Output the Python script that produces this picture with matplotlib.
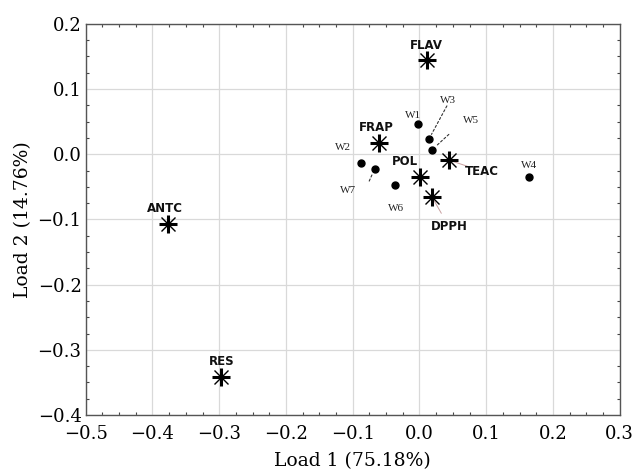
import matplotlib
matplotlib.use('Agg')
import matplotlib.pyplot as plt
from matplotlib.ticker import MultipleLocator

# variable loadings (asterisks)
var_names = ['FLAV', 'FRAP', 'POL', 'TEAC', 'DPPH', 'ANTC', 'RES']
var_x = [0.011, -0.060, 0.001, 0.044, 0.019, -0.377, -0.297]
var_y = [0.144, 0.017, -0.035, -0.009, -0.066, -0.107, -0.341]
# label offsets in points
var_off = [(0, 11), (-2, 11), (-11, 11), (24, -8), (12, -21), (-2, 11), (0, 11)]

# wine samples (dots)
w_names = ['W1', 'W2', 'W3', 'W4', 'W5', 'W6', 'W7']
w_x = [-0.002, -0.088, 0.014, 0.164, 0.019, -0.037, -0.067]
w_y = [0.046, -0.013, 0.023, -0.035, 0.007, -0.047, -0.022]
w_off = [(-4, 6), (-13, 11), (14, 28), (0, 8), (28, 21), (1, -17), (-19, -16)]
w_lead = [None, None, (13, 24), None, (12, 11), None, (-4, -9)]

fig = plt.figure(figsize=(6.35, 4.76), dpi=100)
ax = fig.add_axes([0.135, 0.128, 0.841, 0.822])

ax.set_xlim(-0.5, 0.3)
ax.set_ylim(-0.4, 0.2)
ax.xaxis.set_major_locator(MultipleLocator(0.1))
ax.yaxis.set_major_locator(MultipleLocator(0.1))
ax.xaxis.set_minor_locator(MultipleLocator(0.025))
ax.yaxis.set_minor_locator(MultipleLocator(0.025))
ax.grid(True, which='major', color='#d9d9d9', linewidth=0.9)
ax.set_axisbelow(True)
ax.tick_params(which='both', direction='in', top=True, right=True, color='#444444')
ax.tick_params(which='major', length=0, labelsize=13)
ax.tick_params(axis='x', which='major', pad=7)
ax.tick_params(axis='y', which='major', pad=3)
ax.tick_params(which='minor', length=2.5, width=0.8)
for lab in ax.get_xticklabels() + ax.get_yticklabels():
    lab.set_family('DejaVu Serif')
ax.xaxis.set_major_formatter(plt.FuncFormatter(lambda v, p: f'{v:.1f}'.replace('-', '\u2212')))
ax.yaxis.set_major_formatter(plt.FuncFormatter(lambda v, p: f'{v:.1f}'.replace('-', '\u2212')))
for s in ax.spines.values():
    s.set_color('#555555')
    s.set_linewidth(1.0)

ax.set_xlabel('Load 1 (75.18%)', family='DejaVu Serif', fontsize=13.5, labelpad=7)
ax.set_ylabel('Load 2 (14.76%)', family='DejaVu Serif', fontsize=13.5, labelpad=4)

# asterisks: thick plus with thinner cross
ax.plot(var_x, var_y, linestyle='none', marker='+', markersize=13, mew=2.2, color='black', zorder=4)
ax.plot(var_x, var_y, linestyle='none', marker='x', markersize=10, mew=1.0, color='black', zorder=4)

for n, x, y, off in zip(var_names, var_x, var_y, var_off):
    ax.annotate(n, (x, y), xytext=off, textcoords='offset points', ha='center', va='center',
                fontsize=8.5, fontweight='bold', family='DejaVu Sans', color='#111111', zorder=5)

# faint leaders for TEAC and DPPH
for i in [3, 4]:
    ax.annotate('', (var_x[i], var_y[i]), xytext=(var_off[i][0] * 0.55, var_off[i][1] * 0.55),
                textcoords='offset points',
                arrowprops=dict(arrowstyle='-', color='#c8a0a0', lw=0.7, shrinkA=0, shrinkB=0))

ax.plot(w_x, w_y, linestyle='none', marker='o', markersize=5, color='black', zorder=4)
for n, x, y, off, lead in zip(w_names, w_x, w_y, w_off, w_lead):
    ax.annotate(n, (x, y), xytext=off, textcoords='offset points', ha='center', va='center',
                fontsize=8, family='Liberation Serif', color='#222222', zorder=5)
    if lead:
        ax.annotate('', (x, y), xytext=lead, textcoords='offset points',
                    arrowprops=dict(arrowstyle='-', color='#333333', lw=0.8, linestyle=(0, (2, 2)),
                                    shrinkA=0, shrinkB=4))

fig.savefig('out.png', dpi=100)
